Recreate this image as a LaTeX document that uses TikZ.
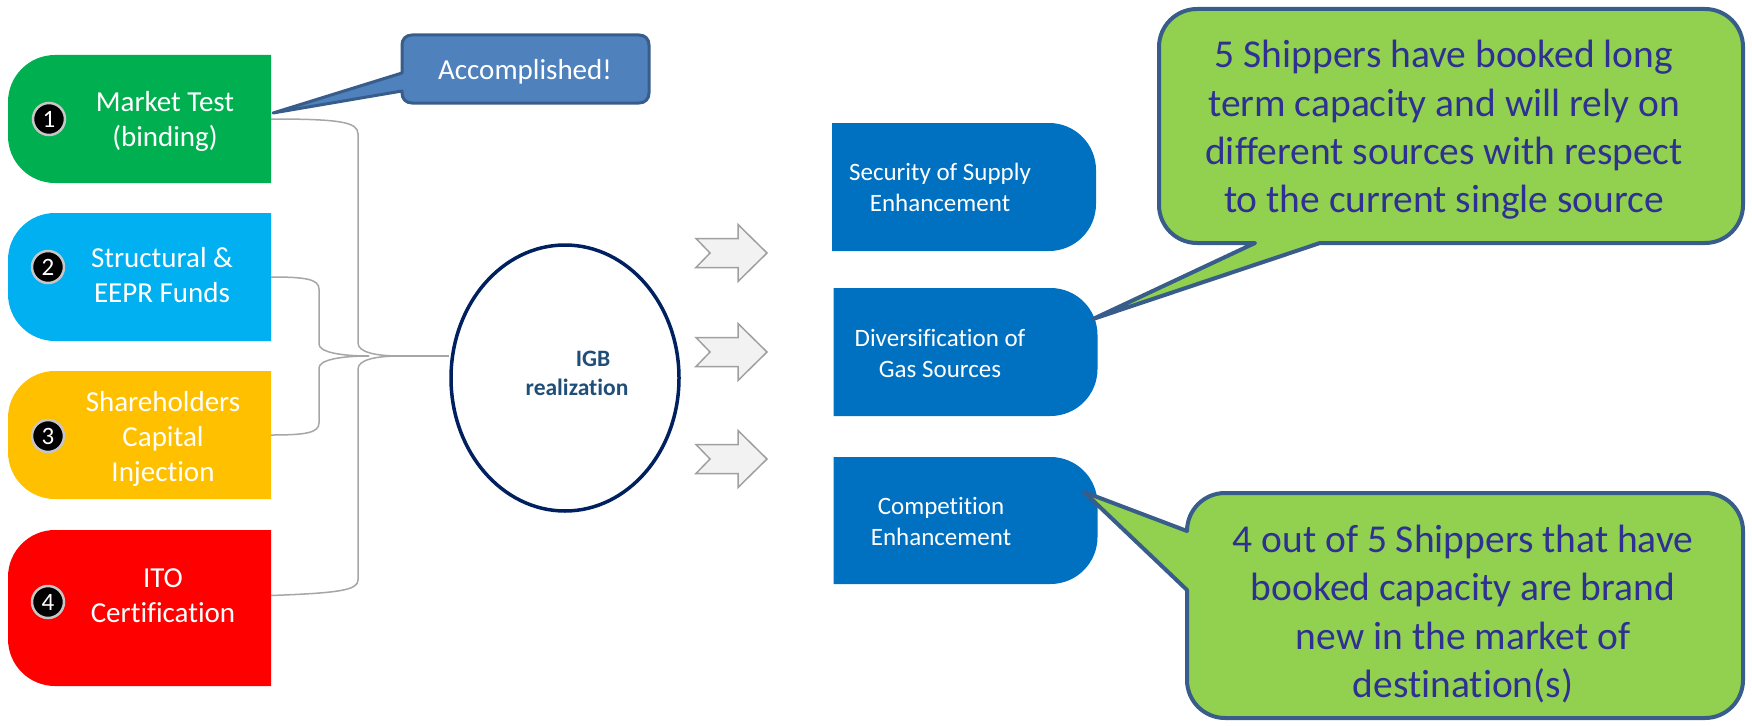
\documentclass[tikz,border=0pt]{standalone}
\usepackage{fontspec}
\setmainfont{Carlito}[Ligatures=NoCommon, RawFeature={-liga;-clig;-calt;-dlig}]
\usetikzlibrary{shapes.geometric}
\definecolor{cgreen}{HTML}{00B050}
\definecolor{ccyan}{HTML}{00B0F0}
\definecolor{cyellow}{HTML}{FFC000}
\definecolor{cred}{HTML}{FF0000}
\definecolor{cblue}{HTML}{0070C0}
\definecolor{clgreen}{HTML}{92D050}
\definecolor{cborder}{HTML}{385D8A}
\definecolor{cacc}{HTML}{4F81BD}
\definecolor{cnavy}{HTML}{002060}
\definecolor{ctxt}{HTML}{2E3192}
\definecolor{cigb}{HTML}{1F4E79}
\definecolor{cbrace}{HTML}{A6A6A6}
\definecolor{carrfill}{HTML}{F2F2F2}
\definecolor{carrline}{HTML}{A0A0A0}
\begin{document}
\begin{tikzpicture}[x=1pt,y=-1pt,
  lbox/.style={inner sep=0pt, outer sep=0pt, minimum width=263pt, minimum height=128pt},
  rbox/.style={inner sep=0pt, outer sep=0pt, minimum width=264pt, minimum height=128pt},
  ltext/.style={text=white, align=center, inner sep=0pt, font=\fontsize{29}{35}\selectfont},
  rtext/.style={text=white, align=center, inner sep=0pt, font=\fontsize{25}{31}\selectfont},
  ctext/.style={text=ctxt, align=center, inner sep=0pt, font=\fontsize{39.5}{48.3}\selectfont},
  numball/.style={circle, fill=black, draw=gray!45, line width=2.5pt, minimum size=32pt,
    inner sep=0pt, text=white, font=\fontsize{25}{25}\selectfont},
  brace/.style={draw=cbrace, line width=1.5pt},
  callout/.style={fill=clgreen, draw=cborder, line width=4pt, line join=round},
  acccall/.style={fill=cacc, draw=cborder, line width=3pt, line join=round},
  pics/garrow/.style={code={
    \draw[fill=carrfill, draw=carrline, line width=1.5pt, line join=miter]
      (-35,-14.5) -- (7,-14.5) -- (7,-28.5) -- (36,0) -- (7,28.5) -- (7,14.5)
      -- (-35,14.5) -- (-21,0) -- cycle;}}
]
\useasboundingbox (0,0) rectangle (1752,725);

% ---------- left boxes ----------
\node[lbox] (m1) at (139.5,119) {};
\node[lbox] (m2) at (139.5,277) {};
\node[lbox] (m3) at (139.5,435) {};
\node[lbox, minimum height=156pt] (m4) at (139.5,608) {};
\fill[cgreen, rounded corners=47pt] (m1.north east) -- (m1.north west) -- (m1.south west) -- (m1.south east);
\fill[ccyan, rounded corners=47pt] (m2.north east) -- (m2.north west) -- (m2.south west) -- (m2.south east);
\fill[cyellow, rounded corners=47pt] (m3.north east) -- (m3.north west) -- (m3.south west) -- (m3.south east);
\fill[cred, rounded corners=47pt] (m4.north east) -- (m4.north west) -- (m4.south west) -- (m4.south east);

\node[ltext] (m1t) at (165,121) {Market Test\\(binding)};
\node[ltext] (m2t) at (162,275.5) {Structural \&\\EEPR Funds};
\node[ltext] (m3t) at (163,438.5) {Shareholders\\Capital\\Injection};
\node[ltext] (m4t) at (163,595.5) {ITO\\Certification};

\node[numball] (n1) at (49,119) {1};
\node[numball] (n2) at (48,267) {2};
\node[numball] (n3) at (48,436) {3};
\node[numball] (n4) at (48,602) {4};

% ---------- ellipse ----------
\node[ellipse, draw=cnavy, line width=3.5pt, inner sep=0pt, minimum width=228pt, minimum height=266pt] (igb) at (565,378) {};
\node[text=cigb, align=center, inner sep=0pt, font=\bfseries\fontsize{23.5}{29}\selectfont] (igbt) at (577,373) {\hspace*{32pt}IGB\\realization};

% ---------- braces ----------
\coordinate (bigtip) at (400,356);
\coordinate (smalltip) at (369,356);
\draw[brace] (m1.east) .. controls (340,119) and (358,122) .. (358,134) -- (358,343)
  .. controls (358,352) and (375,356) .. (bigtip);
\draw[brace] (m4.east |- m4t) .. controls (340,593) and (358,590) .. (358,580) -- (358,369)
  .. controls (358,360) and (375,356) .. (bigtip);
\draw[brace] (bigtip) -- (bigtip -| igb.west);
\draw[brace] (m2.east) .. controls (305,277) and (319,279) .. (319,289) -- (319,344)
  .. controls (319,352) and (340,356) .. (smalltip);
\draw[brace] (m3.east) .. controls (305,435) and (319,433) .. (319,423) -- (319,368)
  .. controls (319,360) and (340,356) .. (smalltip);

% ---------- grey arrows ----------
\pic (a1) at (731,253) {garrow};
\pic (a2) at (731,352) {garrow};
\pic (a3) at (731,459) {garrow};

% ---------- right boxes ----------
\node[rbox] (ra) at (964,187) {};
\node[rbox] (rb) at (965.5,352) {};
\node[rbox, minimum height=127pt] (rc) at (965.5,520.5) {};
\fill[cblue, rounded corners=47pt] (ra.north west) -- (ra.north east) -- (ra.south east) -- (ra.south west);
\fill[cblue, rounded corners=47pt] (rb.north west) -- (rb.north east) -- (rb.south east) -- (rb.south west);
\fill[cblue, rounded corners=47pt] (rc.north west) -- (rc.north east) -- (rc.south east) -- (rc.south west);
\node[rtext] (rat) at (940,187.5) {Security of Supply\\Enhancement};
\node[rtext] (rbt) at (940,353) {Diversification of\\Gas Sources};
\node[rtext] (rct) at (941,521) {Competition\\Enhancement};

% ---------- Accomplished callout ----------
\coordinate (acctip) at (273,113);
\draw[acccall] (412,35) -- (639,35) .. controls (645,35) and (649,39) .. (649,45) -- (649,93)
  .. controls (649,99) and (645,103) .. (639,103) -- (412,103)
  .. controls (406,103) and (402,99) .. (402,93) -- (402,91) -- (acctip) -- (402,73) -- (402,45)
  .. controls (402,39) and (406,35) .. (412,35) -- cycle;
\node[text=white, inner sep=0pt, font=\fontsize{29}{34}\selectfont] (acct) at (525,72) {Accomplished!};

% ---------- green callouts ----------
\coordinate (tip1) at (1093,319);
\draw[callout] (1197,9) -- (1705,9) .. controls (1726,9) and (1743,26) .. (1743,47) -- (1743,205)
  .. controls (1743,226) and (1726,243) .. (1705,243) -- (1320,243) -- (tip1) -- (1255,243)
  -- (1197,243) .. controls (1176,243) and (1159,226) .. (1159,205) -- (1159,47)
  .. controls (1159,26) and (1176,9) .. (1197,9) -- cycle;
\node[ctext] (c1t) at (1444,130) {5 Shippers have booked long\\term capacity and will rely on\\different sources with respect\\to the current single source};

\coordinate (tip2) at (1084,492);
\draw[callout] (1225,493) -- (1705,493) .. controls (1726,493) and (1743,510) .. (1743,531) -- (1743,680)
  .. controls (1743,701) and (1726,718) .. (1705,718) -- (1225,718)
  .. controls (1204,718) and (1187,701) .. (1187,680) -- (1187,590) -- (tip2) -- (1187,531)
  .. controls (1187,510) and (1204,493) .. (1225,493) -- cycle;
\node[ctext] (c2t) at (1463,614) {4 out of 5 Shippers that have\\booked capacity are brand\\new in the market of\\destination(s)};
\end{tikzpicture}
\end{document}
